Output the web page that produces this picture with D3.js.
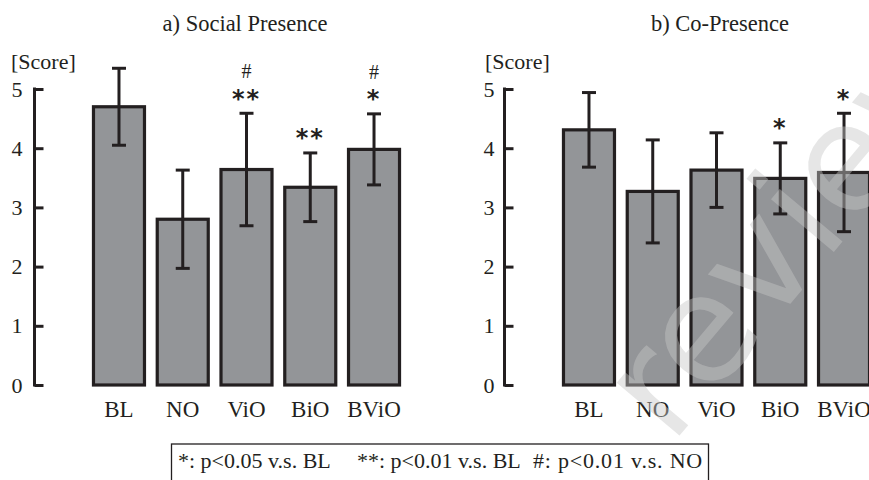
<!DOCTYPE html>
<html>
<head>
<meta charset="utf-8">
<script src="https://cdn.jsdelivr.net/npm/d3@7"></script>
<style>
  html, body { margin: 0; padding: 0; background: #fff; }
  svg { display: block; }
</style>
</head>
<body>
<svg id="chart" width="869" height="480"></svg>
<script>
// ---- data ----
const categories = ["BL", "NO", "ViO", "BiO", "BViO"];
const yTicks = [0, 1, 2, 3, 4, 5];

const socialMean = [4.70, 2.80, 3.64, 3.34, 3.98];
const socialSD   = [0.65, 0.83, 0.95, 0.58, 0.60];
const socialStar = ["", "", "**", "**", "*"];
const socialHash = ["", "", "#", "", "#"];

const coMean = [4.31, 3.27, 3.63, 3.49, 3.59];
const coSD   = [0.63, 0.87, 0.63, 0.60, 1.00];
const coStar = ["", "", "", "*", "*"];
const coHash = ["", "", "", "", ""];

const panelTitles = ["a) Social Presence", "b) Co-Presence"];
const yLabel = "[Score]";
const legendItems = ["*: p<0.05 v.s. BL", "**: p<0.01 v.s. BL", "#: p<0.01 v.s. NO"];
const watermark = "review";

// ---- styles ----
const ink = "#231f20";
const barFill = "#939598";
const serif = "'Liberation Serif', 'Times New Roman', serif";

const svg = d3.select("#chart");

const y = d3.scaleLinear().domain([0, 5]).range([385, 89]);

const panels = [
  { dx: 0, title: panelTitles[0], mean: socialMean, sd: socialSD, star: socialStar, hash: socialHash },
  { dx: 470, title: panelTitles[1], mean: coMean, sd: coSD, star: coStar, hash: coHash }
];

panels.forEach(p => {
  const g = svg.append("g").attr("transform", `translate(${p.dx},0)`);
  const x = d3.scaleBand().domain(categories).range([87.1, 405.9])
    .paddingInner(0.2).paddingOuter(0.1);

  // title
  g.append("text").attr("x", 245 + (p.dx ? 5 : 0)).attr("y", 31)
    .attr("text-anchor", "middle").attr("font-family", serif)
    .attr("font-size", 22.5).attr("fill", ink).text(p.title);

  // y label
  g.append("text").attr("x", 11 + (p.dx ? 4 : 0)).attr("y", 69)
    .attr("font-family", serif).attr("font-size", 22).attr("fill", ink).text(yLabel);

  // axis
  const axis = d3.axisLeft(y).tickValues(yTicks).tickFormat(d3.format("d"))
    .tickSizeInner(-9).tickSizeOuter(0).tickPadding(12 - (p.dx ? 2 : 0));
  const ag = g.append("g").attr("transform", "translate(34.5,0)").call(axis);
  ag.select(".domain").attr("stroke", ink).attr("stroke-width", 3)
    .attr("d", `M0,${y(5) - 1.5}V${y(0) + 1.5}`);
  ag.selectAll(".tick line").attr("stroke", ink).attr("stroke-width", 3);
  ag.selectAll(".tick text").attr("font-family", serif).attr("font-size", 22)
    .attr("fill", ink).attr("dy", "0.32em");

  // bars
  const data = categories.map((c, i) => ({ c, m: p.mean[i], s: p.sd[i], star: p.star[i], hash: p.hash[i] }));
  g.selectAll("rect.bar").data(data).join("rect").attr("class", "bar")
    .attr("x", d => x(d.c)).attr("width", x.bandwidth())
    .attr("y", d => y(d.m)).attr("height", d => y(0) - y(d.m))
    .attr("fill", barFill).attr("stroke", ink).attr("stroke-width", 3.2);

  // error bars
  const cx = d => x(d.c) + x.bandwidth() / 2;
  const eg = g.selectAll("g.err").data(data).join("g").attr("class", "err")
    .attr("stroke", ink).attr("stroke-width", 3);
  eg.append("line").attr("x1", cx).attr("x2", cx)
    .attr("y1", d => y(d.m + d.s)).attr("y2", d => y(d.m - d.s));
  eg.append("line").attr("x1", d => cx(d) - 7).attr("x2", d => cx(d) + 7)
    .attr("y1", d => y(d.m + d.s)).attr("y2", d => y(d.m + d.s));
  eg.append("line").attr("x1", d => cx(d) - 7).attr("x2", d => cx(d) + 7)
    .attr("y1", d => y(d.m - d.s)).attr("y2", d => y(d.m - d.s));

  // significance marks
  g.selectAll("text.star").data(data.filter(d => d.star)).join("text").attr("class", "star")
    .attr("x", cx).attr("y", d => y(d.m + d.s) - 19 + 12.5)
    .attr("text-anchor", "middle").attr("font-family", "'DejaVu Sans', sans-serif")
    .attr("font-weight", "bold").attr("font-size", 24).attr("letter-spacing", 2)
    .attr("fill", ink).text(d => d.star);
  g.selectAll("text.hash").data(data.filter(d => d.hash)).join("text").attr("class", "hash")
    .attr("x", cx).attr("y", d => y(d.m + d.s) - 42 + 7)
    .attr("text-anchor", "middle").attr("font-family", serif)
    .attr("font-size", 20).attr("fill", ink).text(d => d.hash);

  // category labels
  g.selectAll("text.cat").data(categories).join("text").attr("class", "cat")
    .attr("x", c => x(c) + x.bandwidth() / 2).attr("y", 417)
    .attr("text-anchor", "middle").attr("font-family", serif)
    .attr("font-size", 23).attr("fill", ink).text(c => c);
});

// legend
svg.append("rect").attr("x", 171.5).attr("y", 444).attr("width", 537).attr("height", 60)
  .attr("fill", "none").attr("stroke", ink).attr("stroke-width", 1.3);
const legendX = [178, 357, 533];
const legendLS = [0, 0, 0.8];
svg.selectAll("text.leg").data(legendItems).join("text").attr("class", "leg")
  .attr("x", (d, i) => legendX[i]).attr("y", 468)
  .attr("letter-spacing", (d, i) => legendLS[i])
  .attr("font-family", serif).attr("font-size", 22).attr("fill", ink).text(d => d);

// watermark: placed so that the first "e" sits where it does in the reference
const wmSize = 150, wmAngle = -50, wmTarget = [707, 340];
const wm = svg.append("text").attr("x", 0).attr("y", 0)
  .attr("font-family", "'DejaVu Sans', sans-serif").attr("font-size", wmSize)
  .attr("fill", "#c7c7c7").attr("opacity", 0.44).text(watermark);
let lx = 0.72 * wmSize;
try {
  const ext = wm.node().getExtentOfChar(1);
  lx = ext.x + ext.width / 2;
} catch (e) {}
const ly = -0.27 * wmSize;
const rad = wmAngle * Math.PI / 180;
const rx = lx * Math.cos(rad) - ly * Math.sin(rad);
const ry = lx * Math.sin(rad) + ly * Math.cos(rad);
wm.attr("transform", `translate(${wmTarget[0] - rx},${wmTarget[1] - ry}) rotate(${wmAngle})`);
</script>
</body>
</html>
